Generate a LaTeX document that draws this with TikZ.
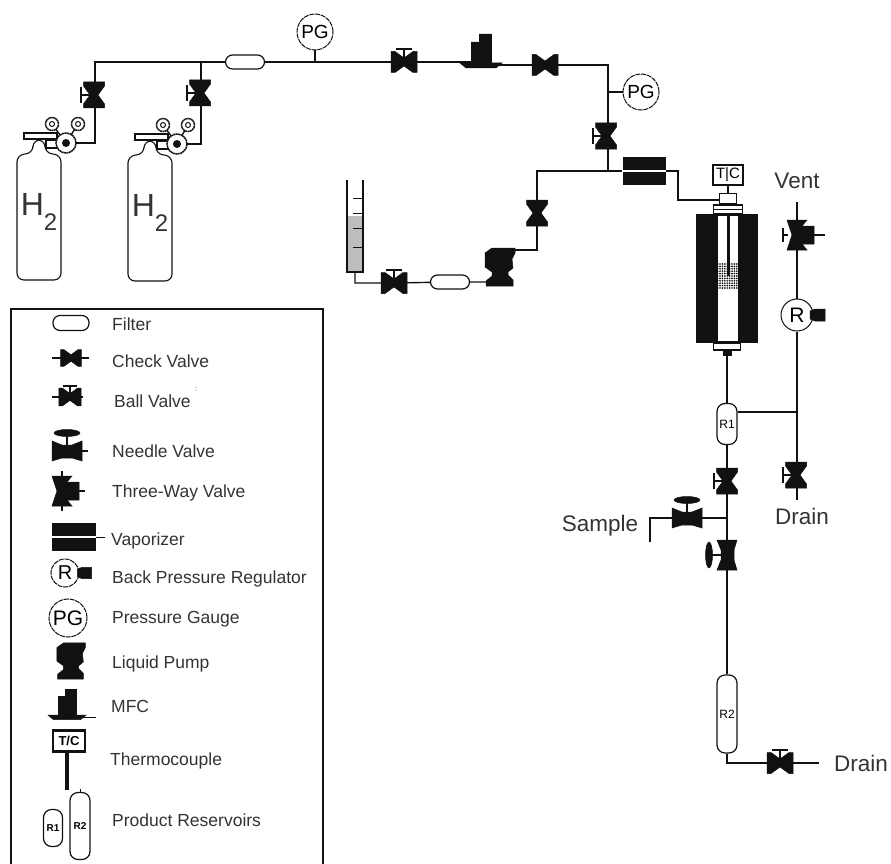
\documentclass[tikz,border=0pt]{standalone}
\usepackage{fontspec}
\setmainfont{Liberation Sans}
\usepackage{tikz}
\usepackage{xcolor}
\usetikzlibrary{positioning,calc,patterns.meta}
\definecolor{ink}{HTML}{111111}
\definecolor{softgrey}{HTML}{333333}
\definecolor{liquid}{HTML}{BDBDBD}

\begin{document}
\begin{tikzpicture}[
  x=1pt, y=-1pt,
  pipe/.style={ink, line width=1.4pt},
  solid fill/.style={fill=ink, draw=ink, line width=0.5pt},
  gauge/.style={draw=ink, circle, fill=white, minimum size=36pt, inner sep=0pt,
                line width=1pt, dash pattern=on 5pt off 0.8pt, font=\fontsize{19}{19}\selectfont},
  smallgauge/.style={draw=ink, circle, fill=white, minimum size=13pt, inner sep=0pt,
                line width=1.5pt, dash pattern=on 2pt off 0.5pt},
  filterbox/.style={draw=ink, rounded corners=7pt, fill=white, minimum width=39pt,
                minimum height=14pt, inner sep=0pt, line width=1.2pt},
  vessel/.style={draw=ink, rounded corners=8pt, fill=white, minimum width=20pt,
                inner sep=0pt, line width=1.2pt, font=\fontsize{12}{12}\selectfont},
  ticbox/.style={draw=ink, fill=white, minimum width=30pt, minimum height=20pt,
                inner sep=0pt, line width=2.4pt, font=\fontsize{15}{15}\selectfont},
  vapor/.style={fill=ink, minimum width=43pt, minimum height=28pt, inner sep=0pt},
  capbox/.style={draw=ink, fill=white, inner sep=0pt, line width=1.2pt},
  legendtext/.style={right, inner sep=0pt, text=softgrey, font=\fontsize{17.5}{17.5}\selectfont},
  biglabel/.style={inner sep=0pt, text=softgrey, font=\fontsize{22.5}{22.5}\selectfont},
  bowtie/.pic={\path[solid fill] (-13,-10.5) -- (-9,-10.5) -- (0,-4) -- (9,-10.5) -- (13,-10.5)
                -- (13,10.5) -- (9,10.5) -- (0,4) -- (-9,10.5) -- (-13,10.5) -- cycle;},
  ballv/.pic={\path[solid fill] (-13,-10.5) -- (-9,-10.5) -- (0,-4) -- (9,-10.5) -- (13,-10.5)
                -- (13,10.5) -- (9,10.5) -- (0,4) -- (-9,10.5) -- (-13,10.5) -- cycle;
              \draw[ink, line width=1.5pt] (0,0) -- (0,-12);
              \draw[ink, line width=2pt] (-8,-13) -- (8,-13);},
  needlev/.pic={\path[solid fill] (-15,-10) -- (-5,-6) -- (5,-6) -- (15,-10) -- (15,10)
                -- (5,7) -- (-5,7) -- (-15,10) -- cycle;
              \draw[ink, line width=2.5pt] (0,0) -- (0,-16);
              \path[solid fill] (0,-18) ellipse (13pt and 3.5pt);},
  threewayv/.pic={\path[solid fill] (-10,-15) -- (10,-15) -- (5,-9) -- (17,-9) -- (17,9)
                -- (5,9) -- (10,15) -- (-10,15) -- (-5,0) -- cycle;},
  regulator/.pic={\path[solid fill] (13,-4) -- (18,-6) -- (28,-6) -- (28,6) -- (18,6)
                -- (13,4) -- cycle;},
  massflow/.pic={\path[solid fill] (-10,0) -- (-10,-23) -- (-2,-23) -- (-2,-31) -- (10,-31)
                -- (10,0) -- cycle;
              \path[solid fill] (-21,-2) -- (21,-2) -- (15,3) -- (-15,3) -- cycle;},
  liquidpump/.pic={\path[solid fill] (-8,-19) -- (15,-19) -- (15,-14) -- (12,-8) -- (13,1)
                -- (8,5) -- (8,8) -- (13,13) -- (13,19) -- (-14,19) -- (-14,14) -- (-8,9)
                -- (-8,5) -- (-15,0) -- (-15,-14) -- cycle;},
]
\useasboundingbox (0,0) rectangle (891,864);

% --- junctions along the gas header
\coordinate (hL) at (95,62);
\coordinate (hB) at (201,62);
\coordinate (hPG) at (315,62);
\coordinate (hE) at (608,65);
\coordinate (jPG) at (608,92);
\coordinate (jV) at (608,171);
\coordinate (jT) at (537,171);
\coordinate (v1) at (94,95);
\coordinate (v2) at (200,93);
\coordinate (v3) at (404,62);
\coordinate (m1) at (481,65);
\coordinate (v4) at (545,65);
\coordinate (v5) at (606,136);
\coordinate (v6) at (537,213);
\coordinate (v7) at (394,283);
\coordinate (p1) at (500,267);
\coordinate (reg1) at (66,143);
\coordinate (reg2) at (177,144);

% --- header pipes, drawn first so the symbols sit on top
\node[filterbox] (f1) at (245,62) {};
\node[gauge] (pg1) at (315,32) {PG};
\node[gauge] (pg2) at (641,92) {PG};
\draw[pipe] (reg1) -| (hL) -- (f1);
\draw[pipe] (reg2) -| (hB);
\draw[pipe] (f1) -- (hPG) -- (v3) -- (v3 -| m1) |- (v4) -- (hE) -- (jV);
\draw[pipe] (pg1) -- (hPG);
\draw[pipe] (pg2) -- (jPG);

% --- gas cylinders
\foreach \cx/\cy/\nm in {39/0/a, 150/1/b} {
  \draw[ink, line width=1.1pt, fill=white, rounded corners=7pt]
    (\cx-22,\cy+280) -- (\cx-22,\cy+155) -- (\cx-6,\cy+153) -- (\cx-6,\cy+140)
    -- (\cx+6,\cy+140) -- (\cx+6,\cy+153) -- (\cx+22,\cy+155) -- (\cx+22,\cy+280) -- cycle;
  \draw[ink, line width=1.1pt, fill=white] (\cx-15,\cy+133) rectangle (\cx+18,\cy+139);
  \draw[ink, line width=1.1pt, fill=white] (\cx+7,\cy+140) rectangle (\cx+18,\cy+148);
  \node[inner sep=0pt, text=softgrey, font=\fontsize{32}{32}\selectfont] (h\nm) at (\cx,\cy+212)
    {H\raisebox{-15pt}{\fontsize{24}{24}\selectfont 2}};
}

% --- regulators and their gauges
\foreach \rr/\ga/\gb in {reg1/{52,124}/{78,124}, reg2/{163,125}/{188,125}} {
  \draw[pipe] (\ga) -- (\rr);
  \draw[pipe] (\gb) -- (\rr);
  \node[smallgauge] at (\ga) {};
  \node[smallgauge] at (\gb) {};
  \draw[ink, line width=1pt] (\ga) circle (2.5pt);
  \draw[ink, line width=1pt] (\gb) circle (2.5pt);
  \node[smallgauge, minimum size=20pt] at (\rr) {};
  \fill[ink] (\rr) circle (4pt);
}

\pic[rotate=90] at (v1) {ballv};
\pic[rotate=90] at (v2) {ballv};
\pic at (v3) {ballv};
\pic at (m1) {massflow};
\pic at (v4) {bowtie};
\pic[rotate=90] at (v5) {ballv};

% --- liquid feed
\node[filterbox] (f2) at (450,282) {};
\coordinate (cyl) at (355,272);
\draw[pipe] (cyl) |- (v7) -- (f2) -- (p1 |- f2);
\draw[pipe] (p1) ++(10,-17) -| (v6) -- (jT) -- (jV) -- (622,171);
\fill[liquid] (348,216) rectangle (362,272);
\draw[ink, line width=1.2pt] (347,180) -- (347,272) -- (363,272) -- (363,180);
\foreach \ty in {198,213,228,247} {
  \draw[ink, line width=1pt] (353,\ty) -- (362,\ty);
}
\pic at (v7) {ballv};
\pic at (p1) {liquidpump};
\pic[rotate=90] at (v6) {bowtie};

% --- vaporizer and reactor
\node[vapor] (vap) at (644,171) {};
\draw[white, line width=1.3pt] (vap.west) -- (vap.east);
\coordinate (tin) at (720,200);
\draw[pipe] (vap.east) -- (678,171) |- (tin);
\node[ticbox] (tic) at (728,175) {T|C};
\node[capbox, minimum width=17pt, minimum height=10pt] (cap) at (728,198.5) {};
\draw[ink, line width=2.5pt] (tic) -- (cap);
\node[capbox, minimum width=29pt, minimum height=9pt] (flange) at (728,209.5) {};
\draw[ink, line width=0.8pt] (flange.west) -- (flange.east);
\node[fill=ink, minimum width=62pt, minimum height=129pt, inner sep=0pt] (furn) at (727,278.5) {};
\node[fill=white, minimum width=20pt, minimum height=125pt, inner sep=0pt] (tube) at (728,278.5) {};
\fill[pattern={Dots[distance=2.4pt, radius=0.95pt]}, pattern color=ink] (718,263) rectangle (738,288);
\draw[ink, line width=3pt] (728,216) -- (728,276);
\node[capbox, minimum width=27pt, minimum height=7pt] (botcap) at (727,346.5) {};
\node[fill=ink, minimum width=9pt, minimum height=6pt, inner sep=0pt] (botnub) at (727,353) {};

% --- product side
\node[vessel, minimum height=41pt] (r1) at (727,424) {R1};
\node[vessel, minimum height=78pt] (r2) at (727,714) {R2};
\coordinate (vent) at (797,202);
\coordinate (v8) at (797,235);
\node[draw=ink, circle, fill=white, minimum size=32pt, inner sep=0pt, line width=1pt,
      font=\fontsize{21}{21}\selectfont] (bpr) at (797,315) {R};
\coordinate (jR) at (797,412);
\coordinate (v9) at (796,475);
\coordinate (dr1) at (797,500);
\coordinate (v10) at (727,481);
\coordinate (jS) at (727,518);
\coordinate (v11) at (687,518);
\coordinate (s1) at (650,518);
\coordinate (s2) at (650,542);
\coordinate (v12) at (727,555);
\coordinate (v13) at (780,763);
\coordinate (dr2) at (819,763);

\draw[pipe] (botnub) -- (r1);
\draw[pipe] (vent) -- (bpr);
\draw[pipe] (bpr) -- (jR) -- (dr1);
\draw[pipe] (r1.east |- jR) -- (jR);
\draw[pipe] (r1) -- (jS) -- (r2);
\draw[pipe] (jS) -- (s1) -- (s2);
\draw[pipe] (r2) |- (v13) -- (dr2);
\draw[pipe] (v8) -- ++(28,0);

\pic at (v8) {threewayv};
\draw[ink, line width=1.5pt] (v8) ++(-9,0) -- ++(-5,0);
\draw[ink, line width=1.5pt] (v8) ++(-14,-7) -- ++(0,14);
\pic at (bpr) {regulator};
\pic[rotate=90] at (v9) {ballv};
\pic[rotate=90] at (v10) {ballv};
\pic at (v11) {needlev};
\pic[rotate=90] at (v12) {needlev};
\pic at (v13) {ballv};

\node[biglabel] (ventlab) at (797,181) {Vent};
\node[biglabel] (samplab) at (600,526) {Sample};
\node[biglabel] (drainA) at (802,516) {Drain};
\node[biglabel] (drainB) at (861,763) {Drain};

% --- legend --------------------------------------------------------------
\draw[ink, line width=1.2pt] (11,866) -- (11,309) -- (323,309) -- (323,866);

\node[filterbox, minimum width=36pt, minimum height=15pt] (lf) at (71,323) {};
\node[legendtext] (tf) at (112,324) {Filter};

\coordinate (lc) at (71,358);
\draw[pipe] (52,358) -- (89,358);
\pic[scale=0.8] at (lc) {bowtie};
\node[legendtext] (tc) at (112,361) {Check Valve};

\coordinate (lb) at (70,397);
\draw[pipe] (52,397) -- (83,397);
\pic[scale=0.85] at (lb) {ballv};
\node[legendtext] (tb) at (114,401) {Ball Valve};
\node[inner sep=0pt, text=softgrey, font=\fontsize{7}{7}\selectfont] (tick) at (196,390) {:};

\coordinate (ln) at (67,451);
\draw[pipe] (ln) -- (88,451);
\pic at (ln) {needlev};
\node[legendtext] (tn) at (112,451) {Needle Valve};

\coordinate (lw) at (62,491);
\draw[pipe] (62,471) -- (62,511);
\draw[pipe] (lw) -- (85,491);
\pic at (lw) {threewayv};
\node[legendtext] (tw) at (112,493) {Three-Way Valve};

\node[vapor, minimum width=44pt] (lv) at (74,537) {};
\draw[white, line width=1.3pt] (lv.west) -- (lv.east);
\draw[ink, line width=1pt] (lv.east) -- (105,537);
\node[legendtext] (tv) at (111,541) {Vaporizer};

\node[draw=ink, circle, fill=white, minimum size=28pt, inner sep=0pt, line width=1pt,
      dash pattern=on 5pt off 0.8pt, font=\fontsize{20}{20}\selectfont] (lr) at (65,573) {R};
\pic[scale=0.95] at (lr) {regulator};
\node[legendtext] (tr) at (112,579) {Back Pressure Regulator};

\node[gauge, minimum size=38pt, font=\fontsize{21}{21}\selectfont] (lg) at (68,618) {PG};
\node[legendtext] (tg) at (112,619) {Pressure Gauge};

\coordinate (lp) at (71,661);
\pic[scale=0.95] at (lp) {liquidpump};
\node[legendtext] (tp) at (112,664) {Liquid Pump};

\coordinate (lm) at (67,717);
\draw[ink, line width=1pt] (lm) -- (96,717);
\pic[scale=0.9] at (lm) {massflow};
\node[legendtext] (tm) at (111,706) {MFC};

\node[ticbox, minimum width=32pt, minimum height=21pt, font=\bfseries\fontsize{13}{13}\selectfont] (lt) at (69,741) {T/C};
\coordinate (ltt) at (67,752);
\coordinate (ltb) at (67,790);
\draw[ink, line width=3.5pt] (ltt) -- (ltb);
\node[legendtext] (tt) at (110,761) {Thermocouple};

\node[vessel, minimum width=19pt, minimum height=37pt, font=\bfseries\fontsize{10}{10}\selectfont] (lr1) at (53,828) {R1};
\node[vessel, minimum width=20pt, minimum height=67pt, font=\bfseries\fontsize{10}{10}\selectfont] (lr2) at (80,826) {R2};
\draw[ink, line width=1pt] (lr2.north) -- ++(0,-3);
\node[legendtext] (tq) at (112,820) {Product Reservoirs};
\end{tikzpicture}
\end{document}
